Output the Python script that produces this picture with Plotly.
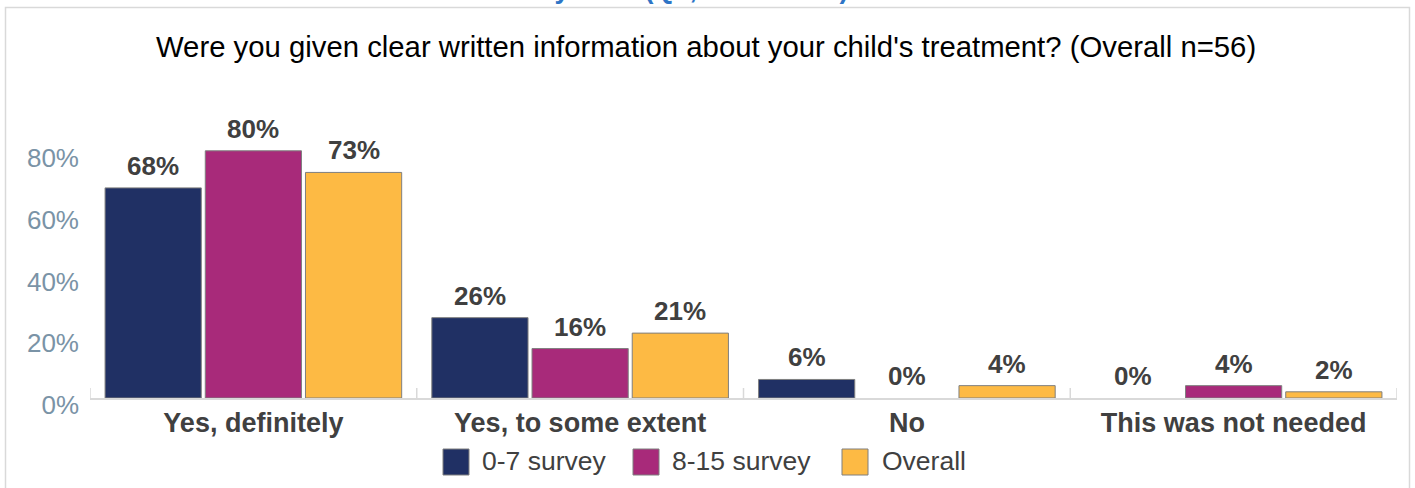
import plotly.graph_objects as go

# ---- data -------------------------------------------------------------
categories = ["Yes, definitely", "Yes, to some extent", "No", "This was not needed"]
series_names = ["0-7 survey", "8-15 survey", "Overall"]
survey_0_7 = [0.68, 0.26, 0.06, 0.00]
survey_8_15 = [0.80, 0.16, 0.00, 0.04]
overall = [0.73, 0.21, 0.04, 0.02]
y_ticks = [0, 0.2, 0.4, 0.6, 0.8]
y_tick_labels = ["0%", "20%", "40%", "60%", "80%"]

series_values = [survey_0_7, survey_8_15, overall]
colors = ["#203064", "#A82A7A", "#FDBA44"]

# ---- page geometry ----------------------------------------------------
W, H = 1415, 488
M_L, M_R, M_T, M_B = 90, 18, 100, 90
PLOT_W = W - M_L - M_R
PLOT_H = H - M_T - M_B
Y_MAX = PLOT_H / 309.0          # ~309 px per 100 %

BAR_GAP = 0.08
GROUP_GAP = 0.04
slot = (1 - BAR_GAP) / len(series_names)

FONT = "Liberation Sans, Arial, sans-serif"
TEXT_DARK = "#404040"
AXIS_GREY = "#D9D9D9"


def px_x(p):
    return (p - M_L) / PLOT_W


def px_y(p):
    return (H - M_B - p) / PLOT_H


fig = go.Figure()

for name, vals, col in zip(series_names, series_values, colors):
    fig.add_trace(go.Bar(
        name=name,
        x=list(range(len(categories))),
        y=vals,
        marker=dict(color=col,
                    line=dict(color="#7F7F7F",
                              width=[1 if v > 0 else 0 for v in vals])),
        showlegend=False,
        hoverinfo="skip",
    ))

# value labels above each bar
annotations = []
for k, vals in enumerate(series_values):
    for i, v in enumerate(vals):
        annotations.append(dict(
            x=i + (k - 1) * slot, y=v, xref="x", yref="y",
            text=f"<b>{round(v * 100)}%</b>",
            showarrow=False, yanchor="bottom", yshift=5,
            font=dict(family=FONT, size=26, color=TEXT_DARK),
        ))

# subtitle
annotations.append(dict(
    x=px_x(706), xref="paper", y=px_y(47), yref="paper",
    text="Were you given clear written information about your child's treatment? (Overall n=56)",
    showarrow=False, xanchor="center", yanchor="middle",
    font=dict(family=FONT, size=29.3, color="#000000"),
))

# main heading (sits mostly above the visible page)
annotations.append(dict(
    x=px_x(342), xref="paper", y=px_y(6), yref="paper",
    text="<b>Children's survey 2023 (Q3, Oct to Dec)</b>",
    showarrow=False, xanchor="left", yanchor="bottom",
    font=dict(family=FONT, size=27, color="#2E75C6"),
))

# legend: coloured squares with labels
shapes = []
legend_items = [(443, 480), (633, 670), (842, 880)]
for (sq_x, tx_x), name, col in zip(legend_items, series_names, colors):
    shapes.append(dict(
        type="rect", xref="paper", yref="paper",
        x0=px_x(sq_x), x1=px_x(sq_x + 26), y0=px_y(475), y1=px_y(449),
        fillcolor=col, line=dict(color="#7F7F7F", width=1),
    ))
    annotations.append(dict(
        x=px_x(tx_x), xref="paper", y=px_y(461), yref="paper",
        text=name, showarrow=False, xanchor="left", yanchor="middle",
        font=dict(family=FONT, size=26.5, color=TEXT_DARK),
    ))

# category boundary ticks, crossing the axis line
for b in [i - 0.5 for i in range(len(categories) + 1)]:
    shapes.append(dict(
        type="line", xref="x", yref="y", ysizemode="pixel", yanchor=0,
        x0=b, x1=b, y0=-10, y1=10,
        line=dict(color=AXIS_GREY, width=1.5),
    ))

# outer frame
shapes.append(dict(
    type="rect", xref="paper", yref="paper", layer="below",
    x0=px_x(5.5), x1=px_x(1409.5), y0=px_y(520), y1=px_y(7.5),
    line=dict(color=AXIS_GREY, width=1.5), fillcolor="rgba(0,0,0,0)",
))

fig.update_layout(
    width=W, height=H,
    margin=dict(l=M_L, r=M_R, t=M_T, b=M_B, autoexpand=False),
    paper_bgcolor="white", plot_bgcolor="white",
    barmode="group", bargap=BAR_GAP, bargroupgap=GROUP_GAP,
    font=dict(family=FONT, color=TEXT_DARK),
    annotations=annotations, shapes=shapes,
    showlegend=False,
)

fig.update_xaxes(
    tickmode="array",
    tickvals=list(range(len(categories))),
    ticktext=[f"<b>{c}</b>" for c in categories],
    range=[-0.5, len(categories) - 0.5],
    ticks="",
    showline=True, linecolor=AXIS_GREY, linewidth=1.5,
    showgrid=False, zeroline=False,
    tickfont=dict(family=FONT, size=27, color=TEXT_DARK),
    ticklabelstandoff=0,
)

fig.update_yaxes(
    range=[0, Y_MAX],
    tickmode="array", tickvals=y_ticks, ticktext=y_tick_labels,
    showgrid=False, zeroline=False, showline=False, ticks="",
    tickfont=dict(family=FONT, size=26, color="#7A93A6"),
    ticklabelstandoff=10, ticklabelshift=7,
)

fig.write_html("out.html")
